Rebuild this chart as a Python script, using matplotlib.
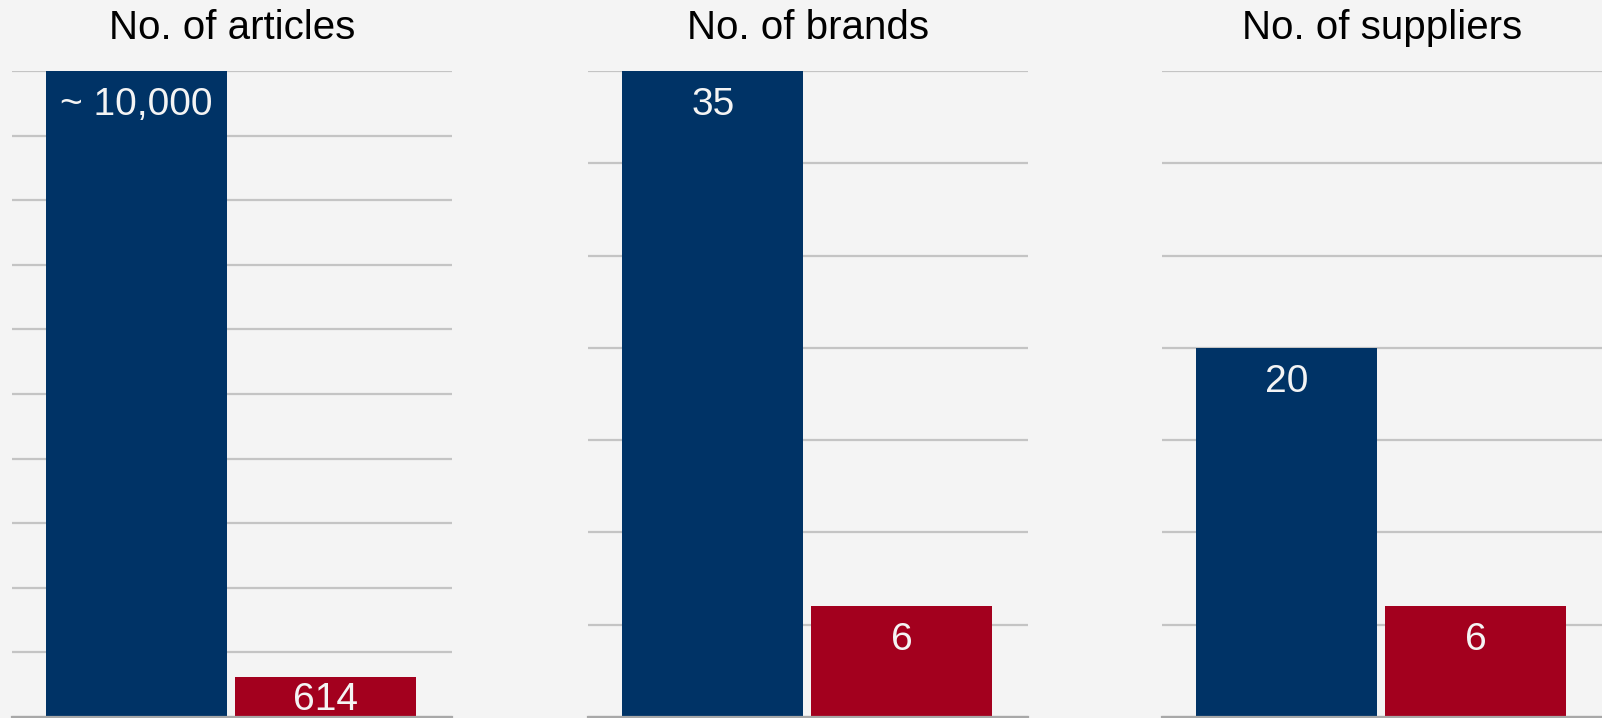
import matplotlib.pyplot as plt

# DATA
titles = ["No. of articles", "No. of brands", "No. of suppliers"]
before_values = [10000, 35, 20]
after_values = [614, 6, 6]
before_labels = ["~ 10,000", "35", "20"]
after_labels = ["614", "6", "6"]
y_max = [10000, 35, 35]
y_step = [1000, 5, 5]

# STYLE
BG = "#f4f4f4"
NAVY = "#003366"
RED = "#a3001e"
GRID = "#c4c4c4"
plt.rcParams['font.family'] = ['Liberation Sans', 'DejaVu Sans']

fig = plt.figure(figsize=(16.02, 7.18), dpi=100, facecolor=BG)
lefts = [11.7 / 1602, 588 / 1602, 1162 / 1602]
width = 440 / 1602
bottom = 1 / 718
height = 646 / 718


def draw_panel(ax, title, vals, labels, top, step):
    ax.set_facecolor(BG)
    bars = ax.bar([0, 1], vals, width=0.958, color=[NAVY, RED], zorder=2)
    ax.set_xlim(-0.66, 1.668)
    ax.set_ylim(0, top)
    ax.set_yticks(range(0, top + 1, step))
    ax.grid(axis='y', color=GRID, linewidth=1.6, zorder=0)
    ax.tick_params(left=False, bottom=False, labelleft=False, labelbottom=False)
    for side in ['top', 'right', 'left']:
        ax.spines[side].set_visible(False)
    ax.spines['bottom'].set_color('#a8a8a8')
    ax.spines['bottom'].set_linewidth(1.6)
    ax.set_title(title, fontsize=29, pad=23)

    # label sits ~34px below the bar top, or lower half for short bars
    px = top / 646
    for b, v, lab in zip(bars, vals, labels):
        y = max(v - 34 * px, v * 0.42)
        ax.text(b.get_x() + b.get_width() / 2, y, lab, ha='center',
                va='center', color='#f4f4f4', fontsize=28, zorder=3)


for i in range(3):
    ax = fig.add_axes([lefts[i], bottom, width, height])
    draw_panel(ax, titles[i], [before_values[i], after_values[i]],
               [before_labels[i], after_labels[i]], y_max[i], y_step[i])

fig.savefig("out.png", dpi=100, facecolor=BG)
